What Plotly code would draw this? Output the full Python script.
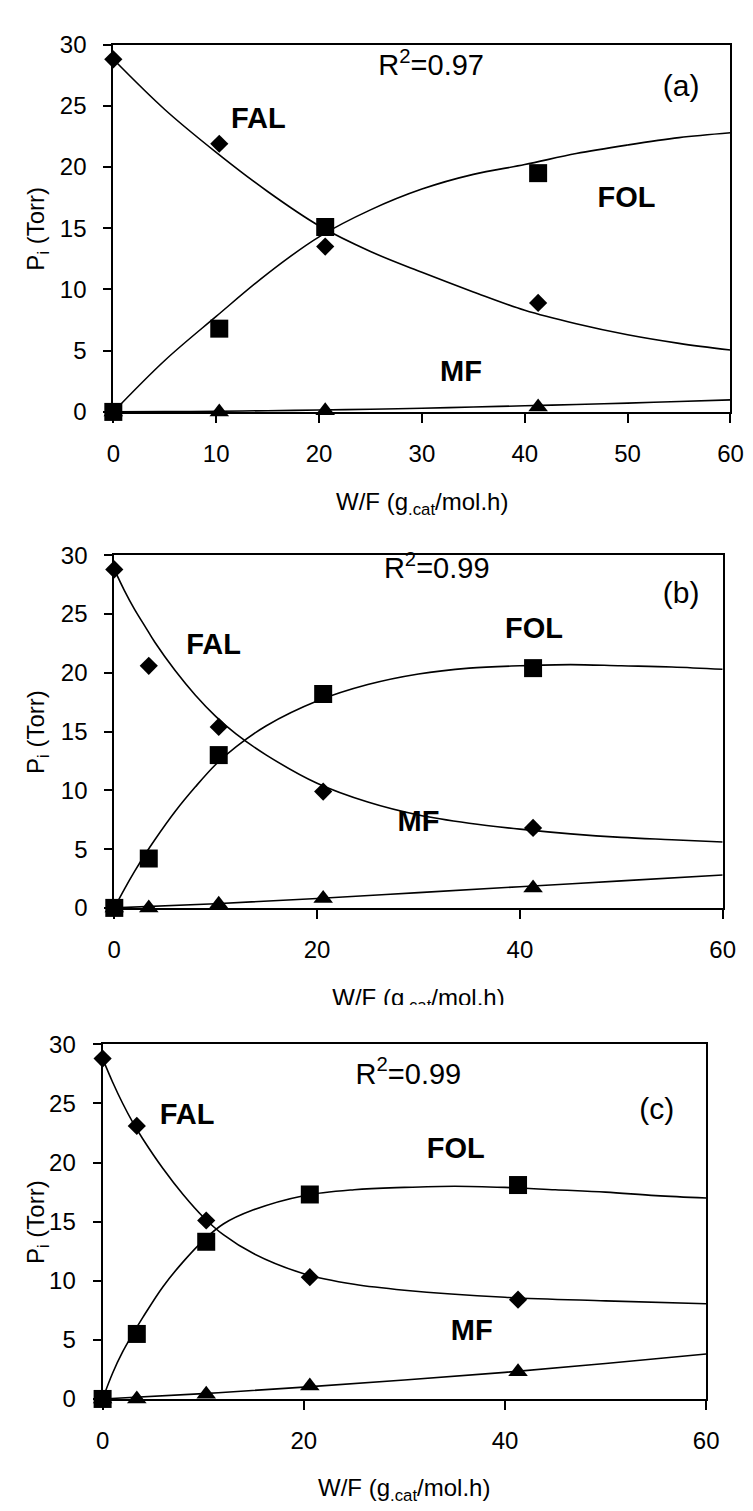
import plotly.graph_objects as go

W, H = 753, 1511

# ---------------- data ----------------
# panel (a)
a_wf = [0, 10.3, 20.6, 41.3]
a_fal = [28.8, 21.9, 13.5, 8.9]
a_fol = [0.0, 6.8, 15.1, 19.5]
a_mf = [0.0, 0.0, 0.1, 0.4]
a_fit_wf = [0, 5, 10, 15, 20, 25, 30, 35, 40, 45, 50, 55, 60]
a_fit_fal = [28.8, 24.7, 21.2, 18.0, 15.2, 13.1, 11.4, 9.8, 8.3, 7.2, 6.3, 5.6, 5.05]
a_fit_fol = [0.0, 4.2, 7.8, 11.3, 14.3, 16.5, 18.2, 19.4, 20.2, 21.1, 21.8, 22.4, 22.8]
a_fit_mf = [0.0, 0.02, 0.05, 0.1, 0.15, 0.22, 0.3, 0.4, 0.5, 0.6, 0.72, 0.85, 0.98]

# panel (b)
b_wf = [0, 3.4, 10.3, 20.6, 41.3]
b_fal = [28.8, 20.6, 15.4, 9.9, 6.8]
b_fol = [0.0, 4.2, 13.0, 18.2, 20.4]
b_mf = [0.0, 0.0, 0.3, 0.8, 1.7]
b_fit_wf = [0, 1, 2, 3, 4, 6, 8, 10, 12, 15, 20, 25, 30, 35, 40, 45, 50, 55, 60]
b_fit_fal = [28.8, 27.0, 25.4, 24.0, 22.6, 20.2, 18.1, 16.3, 14.8, 13.0, 10.6, 9.0, 7.9, 7.2, 6.7, 6.3, 6.0, 5.8, 5.6]
b_fit_fol = [0.0, 1.6, 3.1, 4.5, 5.8, 8.2, 10.3, 12.2, 13.7, 15.5, 17.6, 19.0, 19.9, 20.4, 20.6, 20.7, 20.6, 20.5, 20.3]
b_fit_mf_wf = [0, 10, 20, 30, 40, 50, 60]
b_fit_mf = [0.0, 0.35, 0.8, 1.3, 1.8, 2.3, 2.8]

# panel (c)
c_wf = [0, 3.4, 10.3, 20.6, 41.3]
c_fal = [28.8, 23.1, 15.1, 10.3, 8.4]
c_fol = [0.0, 5.5, 13.3, 17.3, 18.1]
c_mf = [0.0, 0.0, 0.4, 1.1, 2.3]
c_fit_fal_wf = [0, 1, 2, 3, 4, 6, 8, 10, 12, 15, 20, 25, 30, 40, 50, 60]
c_fit_fal = [28.8, 26.8, 25.0, 23.4, 22.0, 19.5, 17.3, 15.4, 13.9, 12.3, 10.6, 9.7, 9.2, 8.6, 8.3, 8.05]
c_fit_fol_wf = [0, 1, 2, 3, 4, 6, 8, 10, 12, 15, 20, 25, 30, 35, 40, 45, 50, 55, 60]
c_fit_fol = [0.0, 2.2, 4.0, 5.5, 6.9, 9.5, 11.6, 13.4, 14.8, 16.0, 17.2, 17.7, 17.9, 18.0, 17.9, 17.7, 17.5, 17.2, 17.0]
c_fit_mf_wf = [0, 10, 20, 30, 40, 50, 60]
c_fit_mf = [0.0, 0.45, 1.0, 1.6, 2.25, 3.0, 3.8]

species = ["FAL", "FOL", "MF"]
r2_labels = ["R<sup>2</sup>=0.97", "R<sup>2</sup>=0.99", "R<sup>2</sup>=0.99"]
panel_tags = ["(a)", "(b)", "(c)"]
x_title = "W/F (g<sub>.cat</sub>/mol.h)"
y_title = "P<sub>i</sub> (Torr)"

# label positions in data units (W/F, P)
label_pos = [
    dict(FAL=(14.1, 23.8), FOL=(49.9, 17.3), MF=(33.8, 3.1), R2=(30.9, 28.1), TAG=(55.2, 26.4)),
    dict(FAL=(9.8, 22.2), FOL=(41.4, 23.6), MF=(30.0, 7.2), R2=(31.8, 28.7), TAG=(55.9, 26.6)),
    dict(FAL=(8.4, 23.9), FOL=(35.1, 21.0), MF=(36.7, 5.6), R2=(30.4, 27.3), TAG=(55.1, 24.3)),
]

# ---------------- geometry (pixels) ----------------
panels = [
    dict(px=(101, 735), py=(23, 397), dtick=10),
    dict(px=(102, 727), py=(543, 902), dtick=20),
    dict(px=(90, 710), py=(1041, 1402), dtick=20),
]

FONT = "Arial, 'Liberation Sans', sans-serif"

fig = go.Figure()

series = [
    (a_wf, a_fal, a_fol, a_mf,
     [(a_fit_wf, a_fit_fal), (a_fit_wf, a_fit_fol), (a_fit_wf, a_fit_mf)]),
    (b_wf, b_fal, b_fol, b_mf,
     [(b_fit_wf, b_fit_fal), (b_fit_wf, b_fit_fol), (b_fit_mf_wf, b_fit_mf)]),
    (c_wf, c_fal, c_fol, c_mf,
     [(c_fit_fal_wf, c_fit_fal), (c_fit_fol_wf, c_fit_fol), (c_fit_mf_wf, c_fit_mf)]),
]

def px2paper_x(p):
    return p / W

def px2paper_y(p):
    return 1 - p / H

for i, (wf, fal, fol, mf, fits) in enumerate(series):
    n = i + 1
    xa = "x" if n == 1 else f"x{n}"
    ya = "y" if n == 1 else f"y{n}"
    for fx, fy in fits:
        fig.add_trace(go.Scatter(x=fx, y=fy, mode="lines", xaxis=xa, yaxis=ya,
                                 line=dict(color="black", width=1.6, shape="spline", smoothing=1.0),
                                 hoverinfo="skip", cliponaxis=True))
    fig.add_trace(go.Scatter(x=wf, y=mf, mode="markers", xaxis=xa, yaxis=ya, cliponaxis=False,
                             marker=dict(symbol="triangle-up", size=17, color="black")))
    fig.add_trace(go.Scatter(x=wf, y=fol, mode="markers", xaxis=xa, yaxis=ya, cliponaxis=False,
                             marker=dict(symbol="square", size=18, color="black")))
    fig.add_trace(go.Scatter(x=wf, y=fal, mode="markers", xaxis=xa, yaxis=ya, cliponaxis=False,
                             marker=dict(symbol="diamond", size=14, color="black")))
    # in-plot labels as text marks
    lp = label_pos[i]
    fig.add_trace(go.Scatter(
        x=[lp[s][0] for s in species], y=[lp[s][1] for s in species],
        xaxis=xa, yaxis=ya, mode="text", text=[f"<b>{s}</b>" for s in species],
        textposition="middle center", cliponaxis=False, hoverinfo="skip",
        textfont=dict(size=29, family=FONT, color="black")))
    fig.add_trace(go.Scatter(
        x=[lp["R2"][0]], y=[lp["R2"][1]], xaxis=xa, yaxis=ya, mode="text", text=[r2_labels[i]],
        textposition="middle center", cliponaxis=False, hoverinfo="skip",
        textfont=dict(size=29, family=FONT, color="black")))
    fig.add_trace(go.Scatter(
        x=[lp["TAG"][0]], y=[lp["TAG"][1]], xaxis=xa, yaxis=ya, mode="text", text=[panel_tags[i]],
        textposition="middle center", cliponaxis=False, hoverinfo="skip",
        textfont=dict(size=30, family=FONT, color="black")))

layout = dict(
    width=W, height=H, margin=dict(l=0, r=0, t=0, b=0),
    paper_bgcolor="white", plot_bgcolor="white", showlegend=False,
    font=dict(family=FONT, color="black", size=24),
)

annotations = []
for i, p in enumerate(panels):
    n = i + 1
    xkey = "xaxis" if n == 1 else f"xaxis{n}"
    ykey = "yaxis" if n == 1 else f"yaxis{n}"
    x0, x1 = p["px"]
    y0, y1 = p["py"]
    layout[xkey] = dict(
        domain=[px2paper_x(x0), px2paper_x(x1)], range=[0, 60],
        anchor="y" if n == 1 else f"y{n}",
        showline=True, linecolor="black", linewidth=2, mirror=True,
        ticks="outside", ticklen=9, tickwidth=1.5, tickcolor="black",
        dtick=p["dtick"], tick0=0, showgrid=False, zeroline=False,
        tickfont=dict(size=24, family=FONT, color="black"), ticklabelstandoff=10,
    )
    layout[ykey] = dict(
        domain=[px2paper_y(y1), px2paper_y(y0)], range=[0, 30],
        anchor="x" if n == 1 else f"x{n}",
        showline=True, linecolor="black", linewidth=2, mirror=True,
        ticks="outside", ticklen=8, tickwidth=1.5, tickcolor="black",
        dtick=5, tick0=0, showgrid=False, zeroline=False,
        tickfont=dict(size=24, family=FONT, color="black"), ticklabelstandoff=12,
    )
    # y title
    annotations.append(dict(x=px2paper_x(23), y=px2paper_y((y0 + y1) / 2), xref="paper", yref="paper",
                            text=y_title, textangle=-90, showarrow=False,
                            xanchor="center", yanchor="middle",
                            font=dict(size=24, family=FONT, color="black")))

# x titles of panels (a) and (c)
annotations.append(dict(x=px2paper_x((101 + 735) / 2), y=px2paper_y(490), xref="paper", yref="paper",
                        text=x_title, showarrow=False, xanchor="center", yanchor="middle",
                        font=dict(size=24, family=FONT, color="black")))
annotations.append(dict(x=px2paper_x((90 + 710) / 2), y=px2paper_y(1494), xref="paper", yref="paper",
                        text=x_title, showarrow=False, xanchor="center", yanchor="middle",
                        font=dict(size=24, family=FONT, color="black")))

# x title of panel (b): partly hidden under panel (c) -> drawn as a clipped text trace
clip_top, clip_bot = 960, 1001
layout["xaxis4"] = dict(domain=[0, 1], range=[0, W], visible=False, anchor="y4", fixedrange=True)
layout["yaxis4"] = dict(domain=[px2paper_y(clip_bot), px2paper_y(clip_top)],
                        range=[0, clip_bot - clip_top], visible=False, anchor="x4", fixedrange=True)
fig.add_trace(go.Scatter(x=[(102 + 727) / 2], y=[clip_bot - 996], xaxis="x4", yaxis="y4",
                         mode="text", text=[x_title], textposition="middle center",
                         textfont=dict(size=24, family=FONT, color="black"),
                         cliponaxis=True, hoverinfo="skip"))

layout["annotations"] = annotations
fig.update_layout(**layout)
fig.write_html("out.html")
